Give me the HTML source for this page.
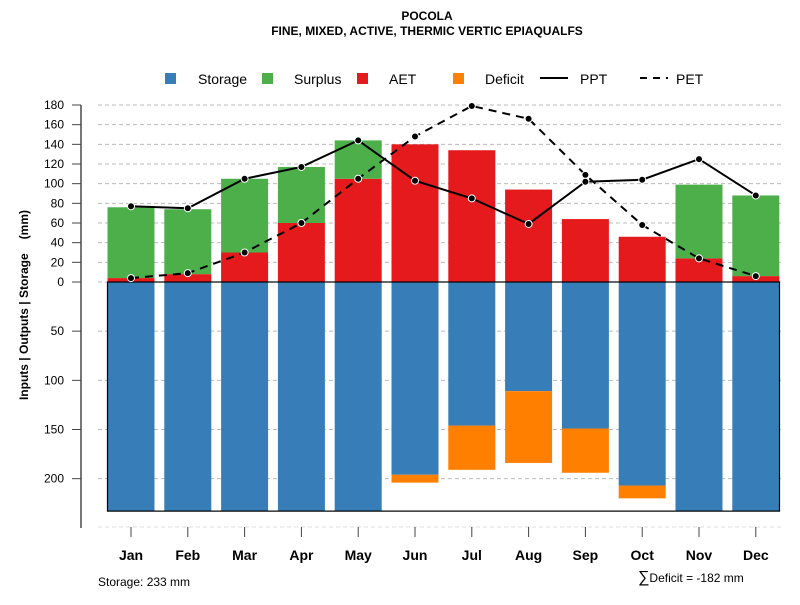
<!DOCTYPE html>
<html><head><meta charset="utf-8"><style>
body{margin:0;background:#fff;font-family:"Liberation Sans",sans-serif}
svg text{font-family:"Liberation Sans",sans-serif}
</style></head><body>
<svg id="chart" width="800" height="600" xmlns="http://www.w3.org/2000/svg">
<text x="427" y="20" font-size="12" font-weight="bold" text-anchor="middle">POCOLA</text>
<text x="427" y="35" font-size="12" font-weight="bold" text-anchor="middle">FINE, MIXED, ACTIVE, THERMIC VERTIC EPIAQUALFS</text>
<g font-size="14">
<rect x="165" y="73" width="11" height="11" fill="#377EB8"/>
<text x="198" y="84">Storage</text>
<rect x="262" y="73" width="11" height="11" fill="#4DAF4A"/>
<text x="294" y="84">Surplus</text>
<rect x="357" y="73" width="11" height="11" fill="#E41A1C"/>
<text x="389" y="84">AET</text>
<rect x="453" y="73" width="11" height="11" fill="#FF7F00"/>
<text x="485" y="84">Deficit</text>
<line x1="540" y1="78" x2="568" y2="78" stroke="#000" stroke-width="2"/>
<text x="580" y="84">PPT</text>
<line x1="640" y1="78" x2="668" y2="78" stroke="#000" stroke-width="2" stroke-dasharray="7,6"/>
<text x="676" y="84">PET</text>
</g>
<text transform="translate(28,305) rotate(-90)" font-size="12" font-weight="bold" text-anchor="middle">Inputs | Outputs | Storage<tspan dx="14">(mm)</tspan></text>
<text x="98" y="586" font-size="12">Storage: 233 mm</text>
<text x="638" y="582" font-size="12"><tspan font-size="16">∑</tspan>Deficit = -182 mm</text>
<g id="grid"></g><g id="bars"></g><g id="axes"></g><g id="lines"></g>
</svg>
<script>
const months=["Jan","Feb","Mar","Apr","May","Jun","Jul","Aug","Sep","Oct","Nov","Dec"];
const aet=[4,8,30,60,105,140,134,94,64,46,24,6];
const surplus=[72,66,75,57,39,0,0,0,0,0,75,82];
const ppt=[77,75,105,117,144,103,85,59,102,104,125,88];
const pet=[4,9,30,60,105,148,179,166,109,58,24,6];
const storage=[233,233,233,233,233,196,146,111,149,207,233,233];
const deficit=[0,0,0,0,0,8,45,73,45,13,0,0];
const upTicks=[0,20,40,60,80,100,120,140,160,180];
const downTicks=[50,100,150,200];
const maxStorage=233;
const NS="http://www.w3.org/2000/svg";
const y0=282,k=177/180;
const yUp=v=>y0-v*k, yDn=v=>y0+v*k;
const xC=i=>131+i*56.8, bw=47;
function mk(tag,attrs,parent){const e=document.createElementNS(NS,tag);for(const a in attrs)e.setAttribute(a,attrs[a]);document.getElementById(parent).appendChild(e);return e;}
upTicks.forEach(t=>{const l=mk('line',{x1:98,x2:782,y1:yUp(t),y2:yUp(t),stroke:'#bbb','stroke-dasharray':'4,3'},'grid');

});
downTicks.forEach(t=>{const l=mk('line',{x1:98,x2:782,y1:yDn(t),y2:yDn(t),stroke:'#bbb','stroke-dasharray':'4,3'},'grid');

});
{const l=mk('line',{x1:98,x2:782,y1:527,y2:527,stroke:'#ddd','stroke-dasharray':'4,3'},'grid');

}
months.forEach((m,i)=>{
 const x=xC(i)-bw/2;
 let r=mk('rect',{x:x,y:yUp(aet[i]),width:bw,height:aet[i]*k,fill:'#E41A1C'},'bars');
 
 
 if(surplus[i]>0){r=mk('rect',{x:x,y:yUp(aet[i]+surplus[i]),width:bw,height:surplus[i]*k,fill:'#4DAF4A'},'bars');
 
 }
 r=mk('rect',{x:x,y:y0,width:bw,height:storage[i]*k,fill:'#377EB8'},'bars');
 
 
 if(deficit[i]>0){r=mk('rect',{x:x,y:yDn(storage[i]),width:bw,height:deficit[i]*k,fill:'#FF7F00'},'bars');
 
 }
});
{const r=mk('rect',{x:107.5,y:y0,width:672,height:maxStorage*k,fill:'none',stroke:'#000','stroke-width':1.2},'axes');

}
{const l=mk('line',{x1:81,x2:81,y1:yUp(180),y2:528,stroke:'#777','stroke-width':2},'axes');

}
upTicks.forEach(t=>{const l=mk('line',{x1:72,x2:81,y1:yUp(t),y2:yUp(t),stroke:'#444'},'axes');


const tx=mk('text',{x:64,y:yUp(t)+4,'font-size':12,'text-anchor':'end'},'axes');tx.textContent=t;

});
downTicks.forEach(t=>{const l=mk('line',{x1:72,x2:81,y1:yDn(t),y2:yDn(t),stroke:'#444'},'axes');


const tx=mk('text',{x:64,y:yDn(t)+4,'font-size':12,'text-anchor':'end'},'axes');tx.textContent=t;

});
months.forEach((m,i)=>{const l=mk('line',{x1:xC(i),x2:xC(i),y1:527,y2:537,stroke:'#444'},'axes');


const tx=mk('text',{x:xC(i),y:560,'font-size':14,'font-weight':'bold','text-anchor':'middle'},'axes');tx.textContent=m;

});
function series(vals,name,dash){
 const p=mk('polyline',{points:vals.map((v,i)=>xC(i)+','+yUp(v)).join(' '),fill:'none',stroke:'#000','stroke-width':2,'stroke-dasharray':dash},'lines');
 
 
 vals.forEach((v,i)=>{const c=mk('circle',{cx:xC(i),cy:yUp(v),r:3.5,fill:'#000',stroke:'#fff','stroke-width':1},'lines');
 
 });
}
series(pet,'pet','8,6');
series(ppt,'ppt','none');
</script>
</body></html>
